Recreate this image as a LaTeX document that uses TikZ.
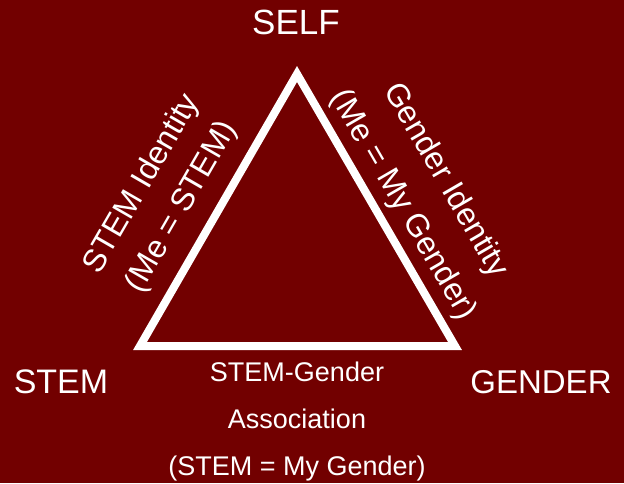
\documentclass[tikz,border=0pt]{standalone}
\usepackage{fontspec}
\setmainfont{Liberation Sans}
\usepackage{xcolor}
\usetikzlibrary{positioning, calc}

\definecolor{maroon}{HTML}{720000}

\begin{document}
\begin{tikzpicture}[x=1pt, y=-1pt]

% Canvas
\fill[maroon] (0,0) rectangle (624,483);

% Triangle corners
\coordinate (self)   at (297,74);
\coordinate (stem)   at (140,346);
\coordinate (gender) at (455,346);

\draw[white, line width=8pt, miter limit=10] (self) -- (gender) -- (stem) -- cycle;

% Corner labels
\node[text=white, inner sep=0, font=\fontsize{35}{40}\selectfont] (selflbl)   at (296,22)  {SELF};
\node[text=white, inner sep=0, font=\fontsize{34}{40}\selectfont] (stemlbl)   at (61,382)  {STEM};
\node[text=white, inner sep=0, font=\fontsize{33}{38}\selectfont] (genderlbl) at (541,382) {GENDER};

% Side labels
\path (stem) -- node[pos=0.45, sloped, yshift=56pt, text=white, inner sep=0, align=center, font=\fontsize{32}{46}\selectfont] (stemid) {STEM Identity\\(Me = STEM)} (self);
\path (self) -- node[pos=0.53, sloped, yshift=50pt, text=white, inner sep=0, align=center, font=\fontsize{32}{49}\selectfont] (genderid) {Gender Identity\\(Me = My Gender)} (gender);

% Base label
\node[text=white, inner sep=0, align=center, font=\fontsize{27}{47}\selectfont] (assoc) at (297,422) {STEM-Gender\\Association\\(STEM = My Gender)};

\end{tikzpicture}
\end{document}
